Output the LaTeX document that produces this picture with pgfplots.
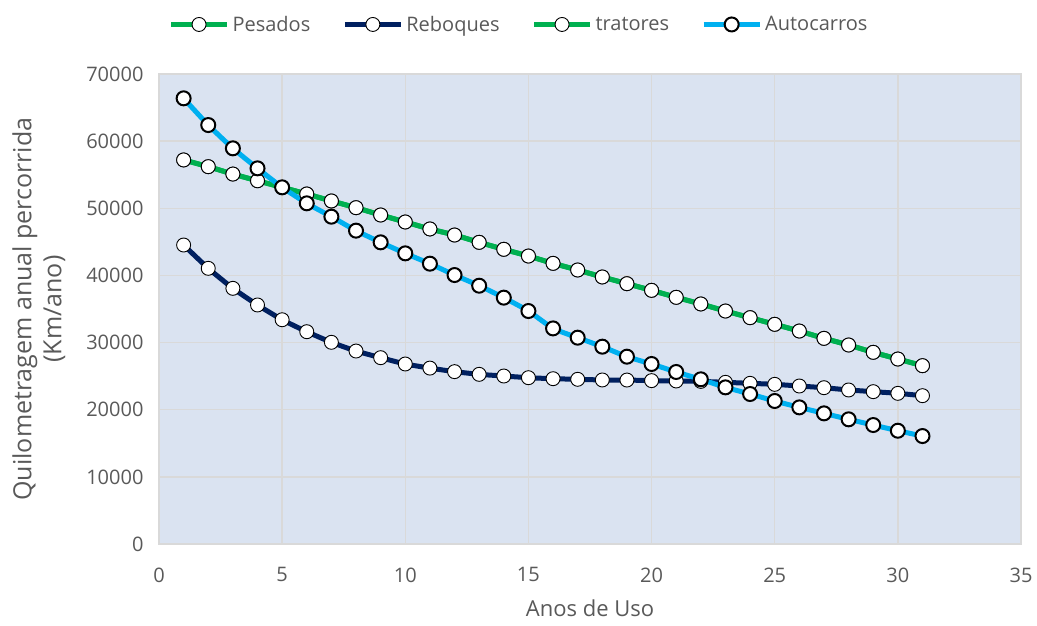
\documentclass[border=0pt]{standalone}
\usepackage{pgfplots}
\pgfplotsset{compat=1.18}
\usepackage{fontspec}
\setmainfont{Open Sans}
\definecolor{pesados}{RGB}{0,176,80}
\definecolor{reboques}{RGB}{0,32,96}
\definecolor{autocarros}{RGB}{0,176,240}
\definecolor{plotbg}{RGB}{218,227,241}
\definecolor{gridc}{RGB}{217,217,217}
\definecolor{txt}{RGB}{89,89,89}

\begin{document}
\begin{tikzpicture}[x=1pt,y=1pt]
\path[use as bounding box] (-159,-81) rectangle (878,544);
\begin{axis}[
  at={(0,0)}, anchor=south west,
  scale only axis, width=862pt, height=470pt,
  xmin=0, xmax=35, ymin=0, ymax=70000,
  xtick={0,5,...,35}, ytick={0,10000,...,70000},
  scaled ticks=false,
  /pgf/number format/set thousands separator={},
  /pgf/number format/assume math mode=true,
  axis background/.style={fill=plotbg},
  grid=major,
  major grid style={gridc, line width=1.5pt},
  axis line style={gridc, line width=1.5pt},
  tick style={draw=none},
  ticklabel style={font=\fontsize{20}{24}\selectfont, text=txt},
  xticklabel style={yshift=-20pt},
  yticklabel style={xshift=-12pt},
  xlabel={Anos de Uso},
  ylabel={Quilometragem anual percorrida\\(Km/ano)},
  xlabel style={font=\fontsize{22}{26}\selectfont, text=txt, yshift=-11pt},
  ylabel style={font=\fontsize{25}{30}\selectfont, text=txt, align=center, yshift=14pt},
  legend columns=4,
  legend style={at={(0.5,1)}, anchor=south, yshift=37pt, xshift=-71pt, draw=none, fill=none,
    font=\fontsize{20}{24}\selectfont, text=txt,
    /tikz/every odd column/.append style={column sep=1pt},
    /tikz/every even column/.append style={column sep=30pt}},
  legend cell align=left,
  legend image code/.code={\draw[mark repeat=2,mark phase=2,#1] plot coordinates {(0pt,0pt) (28pt,0pt) (56pt,0pt)};},
  every axis plot/.append style={line width=5pt, smooth, tension=0.3,
    mark=*, mark size=7pt, mark options={fill=white, draw=black, line width=0.9pt}},
]
% Pesados
\addplot[pesados] coordinates {
(1,57200) (2,56200) (3,55100) (4,54100) (5,53120) (6,52130) (7,51090) (8,50090)
(9,49000) (10,47960) (11,46920) (12,46020) (13,44930) (14,43890) (15,42890) (16,41800)
(17,40810) (18,39770) (19,38770) (20,37780) (21,36740) (22,35750) (23,34700) (24,33710)
(25,32720) (26,31720) (27,30630) (28,29640) (29,28550) (30,27550) (31,26560)};
\addlegendentry{Pesados}
% Reboques
\addplot[reboques] coordinates {
(1,44530) (2,41060) (3,38080) (4,35600) (5,33400) (6,31620) (7,30040) (8,28740)
(9,27750) (10,26810) (11,26200) (12,25670) (13,25270) (14,25020) (15,24770) (16,24620)
(17,24530) (18,24430) (19,24420) (20,24330) (21,24280) (22,24220) (23,24080) (24,23930)
(25,23780) (26,23530) (27,23280) (28,22940) (29,22690) (30,22440) (31,22090)};
\addlegendentry{Reboques}
% tratores
\addplot[pesados] coordinates {
(1,57200) (2,56200) (3,55100) (4,54100) (5,53120) (6,52130) (7,51090) (8,50090)
(9,49000) (10,47960) (11,46920) (12,46020) (13,44930) (14,43890) (15,42890) (16,41800)
(17,40810) (18,39770) (19,38770) (20,37780) (21,36740) (22,35750) (23,34700) (24,33710)
(25,32720) (26,31720) (27,30630) (28,29640) (29,28550) (30,27550) (31,26560)};
\addlegendentry{tratores}
% Autocarros
\addplot[autocarros, mark options={fill=white, draw=black, line width=2pt}] coordinates {
(1,66380) (2,62400) (3,58930) (4,55950) (5,53120) (6,50740) (7,48750) (8,46670)
(9,44930) (10,43290) (11,41750) (12,40060) (13,38470) (14,36690) (15,34700) (16,32110)
(17,30730) (18,29390) (19,27900) (20,26810) (21,25620) (22,24530) (23,23330) (24,22340)
(25,21300) (26,20350) (27,19460) (28,18570) (29,17720) (30,16870) (31,16080)};
\addlegendentry{Autocarros}
\end{axis}
\end{tikzpicture}
\end{document}
